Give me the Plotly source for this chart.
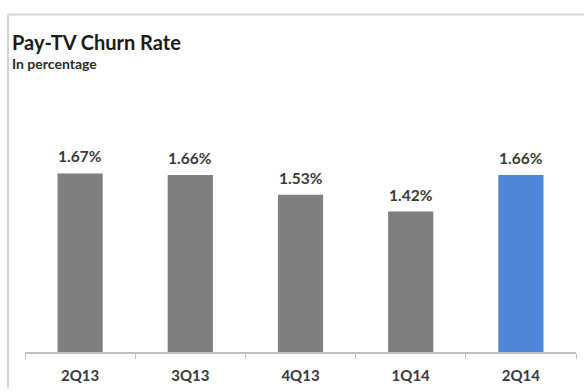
import plotly.graph_objects as go

# Quarterly pay-TV churn
quarters = ["2Q13", "3Q13", "4Q13", "1Q14", "2Q14"]
churn_pct = [1.67, 1.66, 1.53, 1.42, 1.66]
bar_colors = ["#7F7F7F", "#7F7F7F", "#7F7F7F", "#7F7F7F", "#4F86D6"]

W, H = 584, 392
M_L, M_R, M_T, M_B = 25, 8, 123, 37
PLOT_W = W - M_L - M_R
PLOT_H = H - M_T - M_B


def px_x(x):
    return (x - M_L) / PLOT_W


def px_y(y):
    return (H - M_B - y) / PLOT_H


FONT = "Lato"
TXT = "#3A3A3A"

fig = go.Figure(
    go.Bar(
        x=quarters,
        y=churn_pct,
        marker=dict(color=bar_colors, line=dict(width=0)),
        width=0.41,
        hoverinfo="x+y",
    )
)

# value labels above each bar
for q, v in zip(quarters, churn_pct):
    fig.add_annotation(
        x=q, y=v, text=f"<b>{v:.2f}%</b>", showarrow=False,
        yanchor="bottom", yshift=6,
        font=dict(family=FONT, size=15.5, color=TXT),
    )

# heading
fig.add_annotation(
    xref="paper", yref="paper", x=px_x(10), y=px_y(41),
    xanchor="left", yanchor="middle", showarrow=False,
    text="<b>Pay-TV Churn Rate</b>",
    font=dict(family=FONT, size=20, color="#1A1A1A"),
)
fig.add_annotation(
    xref="paper", yref="paper", x=px_x(10), y=px_y(63),
    xanchor="left", yanchor="middle", showarrow=False,
    text="<b>In percentage</b>",
    font=dict(family=FONT, size=14, color="#2A2A2A"),
)

# frame lines along top and left
fig.add_shape(type="line", xref="paper", yref="paper",
              x0=px_x(8), x1=px_x(584), y0=px_y(13), y1=px_y(13),
              line=dict(color="#D4D4D4", width=2))
fig.add_shape(type="line", xref="paper", yref="paper",
              x0=px_x(8), x1=px_x(8), y0=px_y(13), y1=px_y(392),
              line=dict(color="#D4D4D4", width=2))

fig.update_layout(
    width=W, height=H,
    margin=dict(l=M_L, r=M_R, t=M_T, b=M_B, pad=0),
    paper_bgcolor="white", plot_bgcolor="white",
    showlegend=False,
    xaxis=dict(
        showline=True, linecolor="#BFBFBF", linewidth=1.5,
        ticks="outside", tickson="boundaries", ticklen=5, tickcolor="#BFBFBF",
        tickfont=dict(family=FONT, size=15, color=TXT),
        ticklabelstandoff=9,
        showgrid=False, fixedrange=True,
    ),
    yaxis=dict(
        range=[0.5, 2.0], visible=False, showgrid=False, fixedrange=True,
    ),
)

fig.update_xaxes(tickvals=quarters, ticktext=[f"<b>{q}</b>" for q in quarters])

fig.write_html("out.html")
